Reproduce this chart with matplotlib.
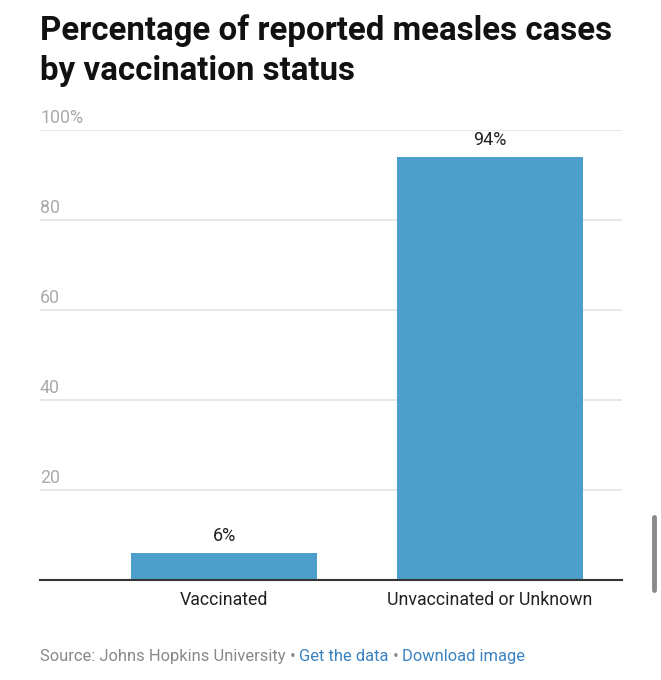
import numpy as np
import matplotlib.pyplot as plt
from matplotlib.lines import Line2D

categories = ['Vaccinated', 'Unvaccinated or Unknown']
percent = [6, 94]
yticks = [20, 40, 60, 80, 100]
ytick_labels = ['20', '40', '60', '80', '100%']

plt.rcParams['font.family'] = ['Roboto', 'DejaVu Sans']

W, H = 661, 680
fig = plt.figure(figsize=(W / 100, H / 100), dpi=100)

# axes box in pixels: x 40..622, y 130 (100%)..580 (0)
ax = fig.add_axes([40 / W, 1 - 580 / H, 582 / W, 450 / H])
x = np.arange(len(categories))
bars = ax.bar(x, percent, width=0.7, color='#4b9fca', zorder=2)
ax.set_xlim(-0.692, 1.496)
ax.set_ylim(0, 100)

for s in ['top', 'right', 'left']:
    ax.spines[s].set_visible(False)
ax.spines['bottom'].set_color('#333333')
ax.spines['bottom'].set_linewidth(1.5)
ax.spines['bottom'].set_zorder(3)

ax.set_yticks(yticks)
ax.set_yticklabels([])
ax.tick_params(axis='y', length=0)
ax.yaxis.grid(True, color='#e4e4e4', linewidth=1.2, zorder=0)
for v, lab in zip(yticks, ytick_labels):
    ax.annotate(lab, (0, v), xycoords=('axes fraction', 'data'),
                xytext=(0, 2), textcoords='offset points',
                ha='left', va='bottom', fontsize=12.8, color='#aaaaaa')

ax.set_xticks(x)
ax.set_xticklabels(categories, fontsize=12.8, color='#222222')
ax.tick_params(axis='x', length=0, pad=8)

for b, v in zip(bars, percent):
    ax.annotate(f'{v}%', (b.get_x() + b.get_width() / 2, v),
                xytext=(0, 6), textcoords='offset points',
                ha='center', va='bottom', fontsize=13, color='#222222')

fig.text(40 / W, 1 - 31 / H, 'Percentage of reported measles cases',
         fontsize=23.8, fontweight='bold', color='#111111', va='center')
fig.text(40 / W, 1 - 71 / H, 'by vaccination status',
         fontsize=23.8, fontweight='bold', color='#111111', va='center')

# footer with mixed colours
parts = [('Source: Johns Hopkins University', '#888888'),
         (' \u2022 ', '#888888'),
         ('Get the data', '#3b82c0'),
         (' \u2022 ', '#888888'),
         ('Download image', '#3b82c0')]
fig.canvas.draw()
r = fig.canvas.get_renderer()
xpos = 40
for txt, col in parts:
    t = fig.text(xpos / W, 1 - 661 / H, txt, fontsize=11.9, color=col, va='baseline')
    xpos += t.get_window_extent(renderer=r).width

# scrollbar
fig.add_artist(Line2D([654 / W, 654 / W], [1 - 517 / H, 1 - 590 / H],
                      color='#8a8a8a', linewidth=3.5, solid_capstyle='round'))

fig.savefig('out.png', dpi=100)
